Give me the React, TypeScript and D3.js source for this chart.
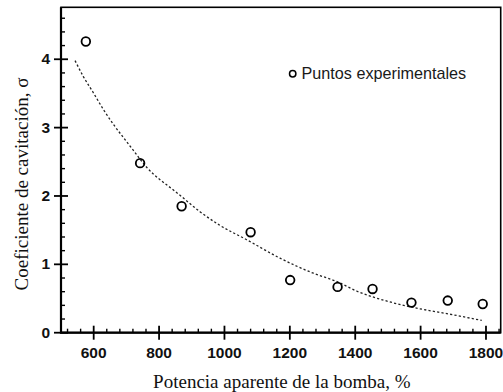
import React, { useEffect, useRef } from "react";
import * as d3 from "d3";

// experimental points (potencia aparente %, sigma)
const potencia = [576, 742, 869, 1080, 1201, 1346, 1453, 1572, 1683, 1790];
const sigma = [4.26, 2.48, 1.85, 1.47, 0.77, 0.67, 0.64, 0.44, 0.47, 0.42];

// dashed trend curve
const curvaX = [543, 568, 599, 629, 660, 690, 721, 762, 843, 864, 925, 986, 1068, 1170, 1272, 1343, 1404, 1506, 1598, 1690, 1787];
const curvaY = [3.98, 3.75, 3.51, 3.27, 3.05, 2.86, 2.67, 2.42, 2.09, 2.01, 1.77, 1.57, 1.36, 1.09, 0.87, 0.75, 0.61, 0.45, 0.35, 0.27, 0.18];

const xTicks = [600, 800, 1000, 1200, 1400, 1600, 1800];
const yTicks = [0, 1, 2, 3, 4];

const width = 503;
const height = 392;
const margin = { left: 61, right: 2.3, top: 7.3, bottom: 59.3 };

function App() {
  const ref = useRef<SVGSVGElement>(null);

  useEffect(() => {
    const svg = d3.select(ref.current);
    svg.selectAll("*").remove();

    const x = d3.scaleLinear().domain([500, 1845]).range([margin.left, width - margin.right]);
    const y = d3.scaleLinear().domain([0, 4.76]).range([height - margin.bottom, margin.top]);
    const x0 = margin.left, x1 = width - margin.right;
    const y0 = height - margin.bottom, y1 = margin.top;

    // frame
    svg.append("rect")
      .attr("x", x0).attr("y", y1)
      .attr("width", x1 - x0).attr("height", y0 - y1)
      .attr("fill", "none").attr("stroke", "#000").attr("stroke-width", 1.6);
    svg.append("path")
      .attr("d", `M${x0},${y1}V${y0}H${x1}`)
      .attr("fill", "none").attr("stroke", "#000").attr("stroke-width", 2.2);

    // minor ticks
    const xMinor = d3.range(520, 1841, 40).filter((v) => (v - 600) % 200 !== 0);
    svg.append("g").selectAll("line").data(xMinor).enter().append("line")
      .attr("x1", (d) => x(d)).attr("x2", (d) => x(d))
      .attr("y1", y0).attr("y2", y0 - 4)
      .attr("stroke", "#000").attr("stroke-width", 1.4);
    const yMinor = d3.range(0.2, 4.75, 0.2).filter((v) => Math.abs(v - Math.round(v)) > 0.01);
    svg.append("g").selectAll("line").data(yMinor).enter().append("line")
      .attr("x1", x0).attr("x2", x0 + 4)
      .attr("y1", (d) => y(d)).attr("y2", (d) => y(d))
      .attr("stroke", "#000").attr("stroke-width", 1.4);

    // major ticks (crossing the axis)
    svg.append("g").selectAll("line").data(xTicks).enter().append("line")
      .attr("x1", (d) => x(d)).attr("x2", (d) => x(d))
      .attr("y1", y0 - 7).attr("y2", y0 + 7)
      .attr("stroke", "#000").attr("stroke-width", 1.8);
    svg.append("g").selectAll("line").data(yTicks).enter().append("line")
      .attr("x1", x0 - 7).attr("x2", x0 + 7)
      .attr("y1", (d) => y(d)).attr("y2", (d) => y(d))
      .attr("stroke", "#000").attr("stroke-width", 1.8);

    // tick labels
    svg.append("g").selectAll("text").data(xTicks).enter().append("text")
      .attr("x", (d) => x(d)).attr("y", 357.5)
      .attr("text-anchor", "middle")
      .attr("font-family", "Liberation Sans, Arial, sans-serif")
      .attr("font-weight", "bold").attr("font-size", 15.5).attr("fill", "#111")
      .text((d) => d);
    svg.append("g").selectAll("text").data(yTicks).enter().append("text")
      .attr("x", x0 - 11).attr("y", (d) => y(d)).attr("dy", "0.33em")
      .attr("text-anchor", "end")
      .attr("font-family", "Liberation Sans, Arial, sans-serif")
      .attr("font-weight", "bold").attr("font-size", 15.5).attr("fill", "#111")
      .text((d) => d);

    // axis titles
    svg.append("text")
      .attr("x", (x0 + x1) / 2 + 1).attr("y", 388)
      .attr("text-anchor", "middle")
      .attr("font-family", "Liberation Serif, Times New Roman, serif")
      .attr("font-size", 19).attr("fill", "#111")
      .text("Potencia aparente de la bomba, %");
    svg.append("text")
      .attr("transform", "translate(28,184) rotate(-90)")
      .attr("text-anchor", "middle")
      .attr("font-family", "Liberation Serif, Times New Roman, serif")
      .attr("font-size", 19).attr("fill", "#111")
      .text("Coeficiente de cavitación, σ");

    // trend curve
    const curva = curvaX.map((v, i) => [v, curvaY[i]] as [number, number]);
    const line = d3.line<[number, number]>()
      .x((d) => x(d[0]))
      .y((d) => y(d[1]))
      .curve(d3.curveMonotoneX);
    svg.append("path")
      .attr("d", line(curva))
      .attr("fill", "none").attr("stroke", "#222")
      .attr("stroke-width", 1.3).attr("stroke-dasharray", "2.2,2.2");

    // points
    svg.append("g").selectAll("circle").data(potencia).enter().append("circle")
      .attr("cx", (d) => x(d)).attr("cy", (d, i) => y(sigma[i]))
      .attr("r", 4.3)
      .attr("fill", "none").attr("stroke", "#000").attr("stroke-width", 1.8);

    // legend
    svg.append("circle")
      .attr("cx", 292.7).attr("cy", 73.7).attr("r", 3.2)
      .attr("fill", "none").attr("stroke", "#000").attr("stroke-width", 1.5);
    svg.append("text")
      .attr("x", 301.5).attr("y", 79.3)
      .attr("font-family", "Liberation Sans, Arial, sans-serif")
      .attr("font-size", 16.2).attr("fill", "#1a1a1a")
      .text("Puntos experimentales");
  }, []);

  return (
    <div style={{ position: "absolute", left: 0, top: 0 }}>
      <svg ref={ref} width={width} height={height} style={{ display: "block", background: "#fff" }} />
    </div>
  );
}

export default App;
